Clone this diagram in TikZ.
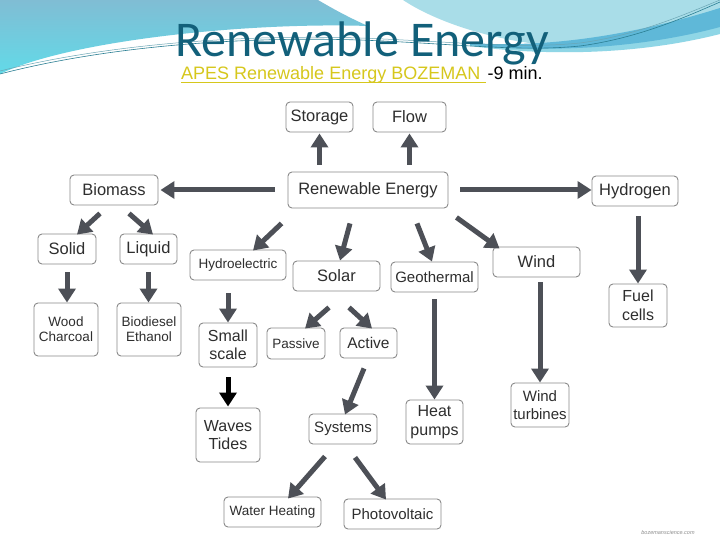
\documentclass[tikz,border=0pt]{standalone}
\usepackage{fontspec}
\setmainfont{Liberation Sans}
\newfontfamily\titlefont{Carlito}
\usetikzlibrary{arrows.meta}
\definecolor{arrgray}{HTML}{4D5057}
\definecolor{boxgray}{HTML}{8A8A8A}
\definecolor{txtgray}{HTML}{2E2E2E}
\definecolor{titleblue}{HTML}{12607A}
\definecolor{linkyellow}{HTML}{D6C71C}
\definecolor{hdrtop}{HTML}{80BDD4}
\definecolor{hdrcyan}{HTML}{62DAE8}
\definecolor{hdrlight}{HTML}{A9DDE8}
\definecolor{hdrband}{HTML}{5FB8D8}
\definecolor{hdrband2}{HTML}{8FD6E6}
\definecolor{hdrline}{HTML}{2A7E93}
\begin{document}
\begin{tikzpicture}[x=1pt,y=-1pt,
  box/.style={draw=boxgray, line width=0.9pt, rounded corners=4pt, fill=white, text=txtgray, align=center, inner sep=0pt, font=\fontsize{16.5}{18}\selectfont},
  mid/.style={font=\fontsize{15}{18}\selectfont},
  sml/.style={font=\fontsize{13.5}{15}\selectfont},
  arr/.style={draw=arrgray, line width=5pt, -{Triangle[length=14pt,width=17pt]}},
  subtxt/.style={anchor=base west, inner sep=0pt, font=\fontsize{18}{19}\selectfont},
]
\useasboundingbox (0,0) rectangle (720,540);
\fill[white] (0,0) rectangle (720,540);

% header decoration
\shade[top color=hdrtop, bottom color=hdrcyan]
  (0,0) -- (318,0) .. controls (335,10) and (350,18) .. (368,26)
  .. controls (250,22) and (70,40) .. (0,74) -- cycle;
\fill[hdrlight] (403,0) .. controls (430,18) and (480,38) .. (545,45)
  .. controls (610,45) and (680,30) .. (720,15) -- (720,0) -- cycle;
\fill[hdrband2] (470,44) .. controls (560,50) and (650,30) .. (720,10)
  -- (720,34) .. controls (650,52) and (560,58) .. (470,46) -- cycle;
\fill[hdrband] (470,43) .. controls (560,49) and (650,30) .. (720,8)
  -- (720,27) .. controls (650,46) and (560,54) .. (470,45) -- cycle;
\draw[hdrline, line width=0.6pt] (0,74) .. controls (100,48) and (230,36) .. (360,40)
  .. controls (460,44) and (520,52) .. (580,46) .. controls (640,38) and (690,15) .. (720,2);
\draw[hdrline!70, line width=0.5pt] (0,71) .. controls (100,46) and (230,34) .. (360,38)
  .. controls (460,42) and (520,49) .. (580,43) .. controls (640,35) and (690,12) .. (720,0);

% title
\node[anchor=base west, inner sep=0pt, font=\titlefont\fontsize{50}{50}\selectfont, text=titleblue] (title) at (175,57) {Renewable Energy};
\node[subtxt, text=linkyellow] (sub) at (181,80) {APES Renewable Energy BOZEMAN\rule{5pt}{0pt}};
\node[subtxt, text=black] (mins) at ([xshift=2pt]sub.base east) {-9 min.};
\draw[linkyellow, line width=1.3pt] ([yshift=-2.2pt]sub.base west) -- ([yshift=-2.2pt]sub.base east);

% nodes
\node[box, minimum width=67pt, minimum height=30pt] (storage) at (319.5,117) {Storage};
\node[box, minimum width=73pt, minimum height=30pt] (flow) at (409.5,117) {Flow};
\node[box, minimum width=160pt, minimum height=36pt] (re) at (368,190) {Renewable Energy};
\node[box, minimum width=88pt, minimum height=30pt] (bio) at (114,190) {Biomass};
\node[box, minimum width=86pt, minimum height=30pt] (hyd) at (635,191) {Hydrogen};
\node[box, minimum width=58pt, minimum height=30pt] (solid) at (67,249) {Solid};
\node[box, minimum width=57pt, minimum height=30pt] (liquid) at (148.5,249) {Liquid};
\node[box, sml, minimum width=96pt, minimum height=30pt] (hydro) at (238,265) {Hydroelectric};
\node[box, minimum width=87pt, minimum height=30pt] (solar) at (336.5,276) {Solar};
\node[box, mid, minimum width=87pt, minimum height=30pt] (geo) at (434.5,277) {Geothermal};
\node[box, minimum width=87pt, minimum height=30pt] (wind) at (536.5,262) {Wind};
\node[box, font=\fontsize{16}{19}\selectfont, minimum width=58pt, minimum height=43pt] (fuel) at (638,305.5) {Fuel\\cells};
\node[box, sml, minimum width=64pt, minimum height=53pt] (wood) at (66,329.5) {Wood\\Charcoal};
\node[box, sml, minimum width=64pt, minimum height=53pt] (biod) at (149,329.5) {Biodiesel\\Ethanol};
\node[box, font=\fontsize{16}{18}\selectfont, minimum width=58pt, minimum height=44pt] (small) at (228,345) {Small\\scale};
\node[box, sml, minimum width=58pt, minimum height=31pt] (passive) at (296,343.5) {Passive};
\node[box, font=\fontsize{15.5}{18}\selectfont, minimum width=57pt, minimum height=30pt] (active) at (368.5,343) {Active};
\node[box, font=\fontsize{16}{18}\selectfont, minimum width=64pt, minimum height=54pt] (waves) at (228,435) {Waves\\Tides};
\node[box, mid, minimum width=68pt, minimum height=30pt] (systems) at (343,429) {Systems};
\node[box, font=\fontsize{16}{19}\selectfont, minimum width=57pt, minimum height=44pt] (heat) at (434.5,422) {Heat\\pumps};
\node[box, mid, minimum width=58pt, minimum height=44pt] (windt) at (540,405) {Wind\\turbines};
\node[box, sml, minimum width=97pt, minimum height=30pt] (water) at (272.5,512) {Water Heating};
\node[box, mid, minimum width=97pt, minimum height=30pt] (pv) at (392.5,514) {Photovoltaic};

\node[font=\fontsize{5.5}{6}\selectfont\itshape, text=black!45, inner sep=0pt] (wm) at (668,533) {bozemanscience.com};

% arrows
\draw[arr, shorten <=7pt, shorten >=1pt] (storage.south |- re.north) -- (storage.south);
\draw[arr, shorten <=7pt, shorten >=1pt] (flow.south |- re.north) -- (flow.south);
\draw[arr, shorten <=13pt, shorten >=2pt] (re.west) -- (bio.east);
\draw[arr, shorten <=12pt] (re.east) -- (re.east -| hyd.west);
\draw[arr, shorten <=10pt] (fuel.north |- hyd.south) -- (fuel.north);
\draw[arr] ([xshift=-14pt,yshift=-8pt]bio.south) -- ([xshift=10pt,yshift=-1pt]solid.north);
\draw[arr] ([xshift=15pt,yshift=-8pt]bio.south) -- ([xshift=4.5pt,yshift=-1pt]liquid.north);
\draw[arr] ([xshift=-6pt,yshift=-15pt]re.south west) -- ([xshift=15pt,yshift=-1pt]hydro.north);
\draw[arr] ([xshift=-18pt,yshift=-15pt]re.south) -- ([xshift=3.5pt]solar.north);
\draw[arr] ([xshift=49pt,yshift=-15pt]re.south) -- ([xshift=-2.5pt]geo.north);
\draw[arr] ([xshift=8pt,yshift=-9pt]re.south east) -- ([xshift=7pt,yshift=-2pt]wind.north west);
\draw[arr, shorten <=8pt] (solid.south) -- (solid.south |- wood.north);
\draw[arr, shorten <=8pt] (liquid.south) -- (liquid.south |- biod.north);
\draw[arr, shorten <=13pt] (small.north |- hydro.south) -- (small.north);
\draw[arr] ([xshift=-7.5pt,yshift=-16pt]solar.south) -- ([xshift=9pt,yshift=-1pt]passive.north);
\draw[arr] ([xshift=12.5pt,yshift=-16pt]solar.south) -- ([xshift=3.5pt,yshift=-1pt]active.north);
\draw[arr, shorten <=7pt] (geo.south) -- (geo.south |- heat.north);
\draw[arr, shorten <=5pt] (windt.north |- wind.south) -- (windt.north);
\draw[arr] ([xshift=-4.5pt,yshift=-10pt]active.south) -- ([xshift=2pt,yshift=-1pt]systems.north);
\draw[arr, draw=black, shorten <=10pt, shorten >=1pt] (small.south) -- (waves.north);
\draw[arr] ([xshift=-18pt,yshift=-12pt]systems.south) -- ([xshift=15.5pt,yshift=-2pt]water.north);
\draw[arr] ([xshift=12pt,yshift=-13pt]systems.south) -- ([xshift=-6.5pt,yshift=-1pt]pv.north);
\end{tikzpicture}
\end{document}
